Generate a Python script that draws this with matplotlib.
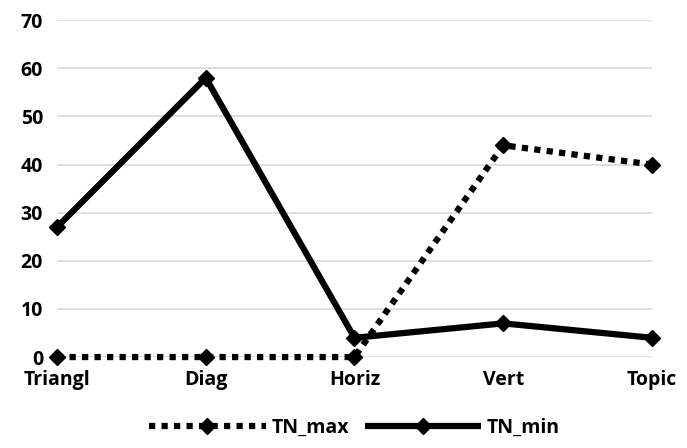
import matplotlib.pyplot as plt

categories = ['Triangl', 'Diag', 'Horiz', 'Vert', 'Topic']
tn_max = [0, 0, 0, 44, 40]
tn_min = [27, 58, 4, 7, 4]
yticks = [0, 10, 20, 30, 40, 50, 60, 70]

plt.rcParams['font.family'] = ['Open Sans', 'DejaVu Sans']

fig = plt.figure(figsize=(6.87, 4.48), dpi=100)
ax = fig.add_axes([0.083, 0.203, 0.866, 0.752])

x = list(range(len(categories)))
ax.plot(x, tn_max, color='black', linewidth=4.5, linestyle=(0, (1, 1)),
        dash_capstyle='butt', marker='D', markersize=8, label='TN_max',
        zorder=3, clip_on=False)
ax.plot(x, tn_min, color='black', linewidth=4.5, solid_capstyle='butt',
        marker='D', markersize=8, label='TN_min', zorder=4, clip_on=False)

ax.set_xlim(0, len(categories) - 1)
ax.set_ylim(0, 70)
ax.set_yticks(yticks)
ax.set_xticks(x)
ax.set_xticklabels(categories)
ax.yaxis.grid(True, color='#d9d9d9', linewidth=1.2)
ax.set_axisbelow(True)
for s in ax.spines.values():
    s.set_visible(False)
ax.tick_params(axis='both', length=0, labelsize=14)
ax.tick_params(axis='y', pad=10)
ax.tick_params(axis='x', pad=9)
for lbl in ax.get_xticklabels() + ax.get_yticklabels():
    lbl.set_fontweight('bold')

leg = ax.legend(loc='center', bbox_to_anchor=(0.5, -0.21), ncol=2,
                frameon=False, handlelength=6.0, columnspacing=0.8,
                handletextpad=0.3, borderpad=0.2,
                prop={'weight': 'bold', 'size': 14})

fig.savefig('out.png', dpi=100)
